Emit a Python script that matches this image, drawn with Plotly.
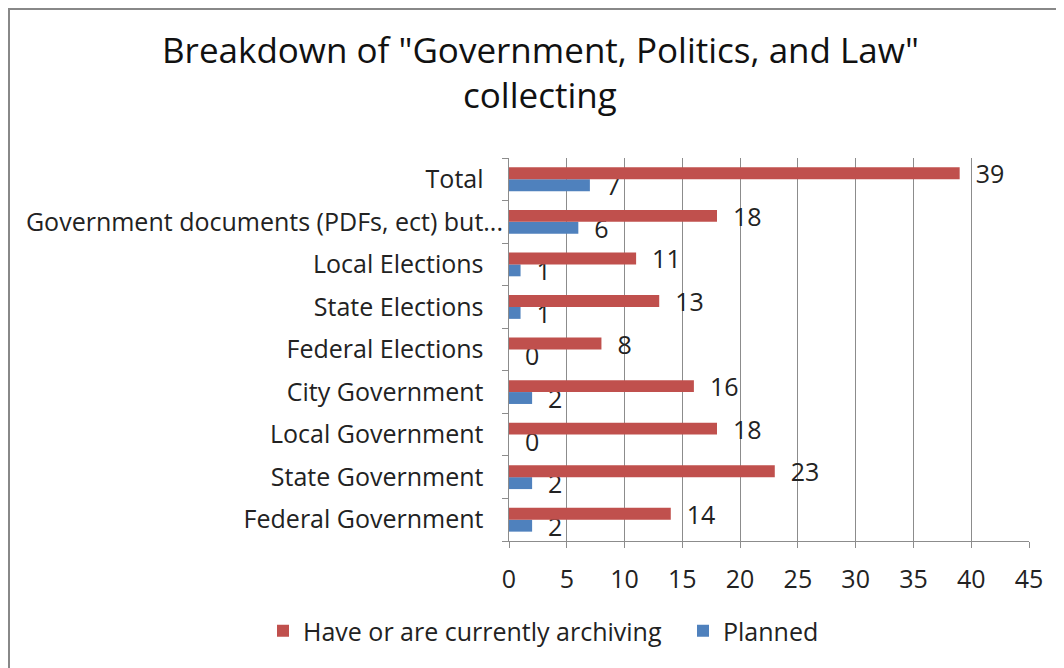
import plotly.graph_objects as go

categories = ["Federal Government", "State Government", "Local Government", "City Government",
              "Federal Elections", "State Elections", "Local Elections",
              "Government documents (PDFs, ect) but...", "Total"]
have = [14, 23, 18, 16, 8, 13, 11, 18, 39]
planned = [2, 2, 0, 2, 0, 1, 1, 6, 7]
x_ticks = [0, 5, 10, 15, 20, 25, 30, 35, 40, 45]

# page body has an 8px margin: figure coordinates = screen - 8
W, H = 1064, 668
L, R, T, B = 501, 43, 150, 135
pw, ph = W - L - R, H - T - B

FONT = "Open Sans"
FS = 25

def px_x(sx):  # screen x -> paper x
    return (sx - 8 - L) / pw

def px_y(sy):  # screen y -> paper y
    return 1 + (T - (sy - 8)) / ph

fig = go.Figure()
fig.add_trace(go.Bar(
    y=categories, x=planned, orientation="h", name="Planned",
    marker=dict(color="#4F81BD", line=dict(width=0)),
    text=[f"{v}" for v in planned], texttemplate="  %{text}", textposition="outside",
    textfont=dict(family=FONT, size=FS, color="#222"), cliponaxis=False, legend="legend2",
))
fig.add_trace(go.Bar(
    y=categories, x=have, orientation="h", name="Have or are currently archiving",
    marker=dict(color="#C0504D", line=dict(width=0)),
    text=[f"{v}" for v in have], texttemplate="  %{text}", textposition="outside",
    textfont=dict(family=FONT, size=FS, color="#222"), cliponaxis=False, legend="legend",
))

leg_common = dict(orientation="h", xref="paper", xanchor="left", yref="paper", yanchor="middle",
                  y=px_y(631), font=dict(family=FONT, size=FS, color="#222"),
                  itemsizing="constant", itemwidth=30, bgcolor="rgba(0,0,0,0)")

fig.update_layout(
    width=W, height=H,
    margin=dict(l=L, r=R, t=T, b=B),
    paper_bgcolor="white", plot_bgcolor="white",
    barmode="group", bargap=0.44, bargroupgap=0,
    font=dict(family=FONT, size=FS, color="#222"),
    showlegend=True,
    legend=dict(x=px_x(263), **leg_common),
    legend2=dict(x=px_x(683), **leg_common),
    uniformtext=dict(minsize=FS, mode="show"),
)
fig.add_annotation(text='Breakdown of "Government, Politics, and Law"', xref="paper", yref="paper",
                   x=px_x(540), y=px_y(49), xanchor="center", yanchor="middle", showarrow=False,
                   font=dict(family=FONT, size=35, color="#111"))
fig.add_annotation(text="collecting", xref="paper", yref="paper",
                   x=px_x(540), y=px_y(95), xanchor="center", yanchor="middle", showarrow=False,
                   font=dict(family=FONT, size=35, color="#111"))

fig.update_xaxes(range=[0, 45], tickvals=x_ticks, ticktext=[str(v) for v in x_ticks],
                 showgrid=True, gridcolor="#8c8c8c", gridwidth=1,
                 showline=True, linecolor="#8c8c8c", linewidth=1,
                 ticks="outside", ticklen=6, tickcolor="#8c8c8c",
                 tickfont=dict(family=FONT, size=FS, color="#222"), zeroline=False,
                 ticklabelstandoff=10)
tick_text = [c if c.endswith("...") else c + "   " for c in categories]
fig.update_yaxes(type="category", categoryorder="array", categoryarray=categories,
                 tickmode="array", tickvals=categories, ticktext=tick_text,
                 showline=True, linecolor="#8c8c8c", linewidth=1,
                 ticks="outside", ticklen=6, tickcolor="#8c8c8c", tickson="boundaries",
                 tickfont=dict(family=FONT, size=FS, color="#222"), showgrid=False,
                 ticklabelstandoff=0)

# outer chart border (left and top visible)
fig.add_shape(type="rect", xref="paper", yref="paper",
              x0=(1 - L) / pw, x1=(W + 20 - L) / pw,
              y0=-(B + 20) / ph, y1=1 + (T - 1) / ph,
              line=dict(color="#888888", width=2), layer="below")

fig.write_html("out.html")
